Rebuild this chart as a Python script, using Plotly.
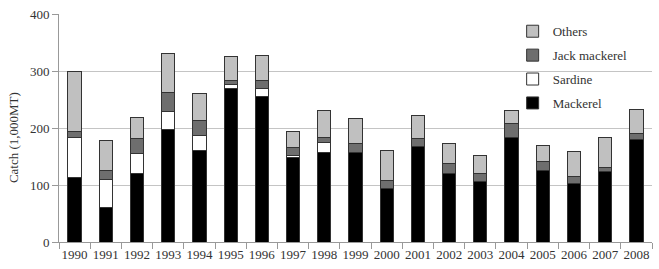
import plotly.graph_objects as go

years = [str(y) for y in range(1990, 2009)]
mackerel = [113, 61, 121, 198, 160, 270, 255, 148, 157, 157, 94, 168, 120, 106, 184, 125, 102, 123, 179]
sardine = [70, 49, 34, 31, 26, 6, 15, 3, 17, 0, 0, 0, 0, 0, 0, 0, 0, 0, 0]
jack = [10, 16, 27, 33, 27, 7, 14, 15, 10, 15, 14, 13, 17, 14, 24, 17, 13, 7, 12]
others = [106, 52, 37, 68, 48, 43, 43, 27, 46, 45, 52, 41, 36, 32, 23, 28, 43, 53, 42]

series = [
    ("Mackerel", mackerel, "#000000", 4),
    ("Sardine", sardine, "#ffffff", 3),
    ("Jack mackerel", jack, "#6e6e6e", 2),
    ("Others", others, "#c0c0c0", 1),
]

FONT = "Liberation Serif, Times New Roman, serif"
fig = go.Figure()
for name, vals, col, rank in series:
    fig.add_trace(go.Bar(
        x=years, y=vals, name=name, legendgroup=name, legendrank=rank,
        marker=dict(color=col, line=dict(color="#333333", width=1)),
    ))

fig.update_layout(
    width=659, height=269,
    margin=dict(l=59, r=7, t=9, b=27),
    barmode="stack", bargap=0.575,
    plot_bgcolor="white", paper_bgcolor="white",
    font=dict(family=FONT, size=13, color="#333333"),
    showlegend=True,
    legend=dict(x=0.765, y=0.99, xanchor="left", yanchor="top",
                traceorder="grouped", tracegroupgap=4,
                bgcolor="rgba(0,0,0,0)", font=dict(family=FONT, size=13, color="#333333")),
    xaxis=dict(type="category", showline=True, linecolor="#999999", linewidth=1,
               ticks="outside", tickson="boundaries", ticklen=6, tickcolor="#999999",
               tickangle=0, showgrid=False, tickfont=dict(family=FONT, size=13, color="#333333")),
    yaxis=dict(range=[0, 400], dtick=100, showline=True, linecolor="#999999", linewidth=1,
               ticks="outside", ticklen=6, tickcolor="#999999",
               showgrid=True, gridcolor="#c4c4c4", gridwidth=1, zeroline=False,
               tickfont=dict(family=FONT, size=13, color="#333333")),
    annotations=[dict(text="Catch (1,000MT)", textangle=-90, xref="paper", yref="paper",
                      x=-0.0776, y=0.46, xanchor="center", yanchor="middle", showarrow=False,
                      font=dict(family=FONT, size=13, color="#333333"))],
)
fig.write_html("out.html")
